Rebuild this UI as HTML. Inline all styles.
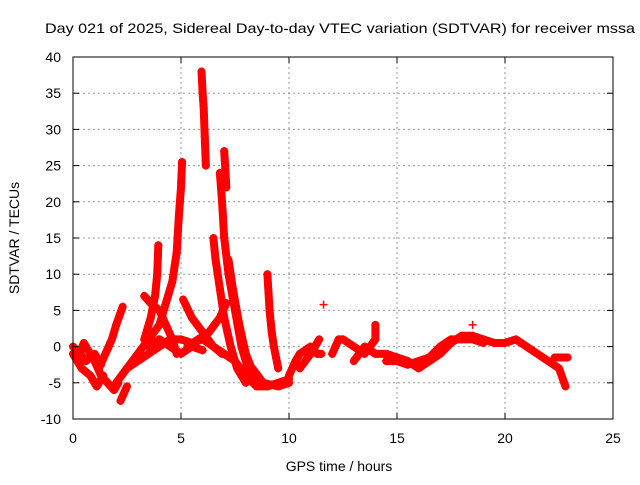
<!DOCTYPE html>
<html><head><meta charset="utf-8"><style>
body{margin:0;background:#fff}
svg{font-family:"Liberation Sans",sans-serif;font-size:14px}
</style></head><body>
<svg id="chart" width="640" height="480">
<text x="340" y="33" text-anchor="middle" textLength="590" lengthAdjust="spacingAndGlyphs">Day 021 of 2025, Sidereal Day-to-day VTEC variation (SDTVAR) for receiver mssa</text>
<g id="grid"></g><g id="marks"></g><g id="axes"></g>
<text x="339" y="471" text-anchor="middle">GPS time / hours</text>
<text transform="translate(19,238) rotate(-90)" text-anchor="middle">SDTVAR / TECUs</text>
</svg>
<script>
const xTicks=[0,5,10,15,20,25];
const yTicks=[-10,-5,0,5,10,15,20,25,30,35,40];
const tracks=[
[[0,0],[0.3,-1],[0.5,0.5],[0.8,-1],[1,-2],[1.3,-4],[1.6,-5],[1.9,-6],[2.1,-5]],
[[0,-1],[0.4,-3],[0.8,-4],[1.1,-5.5],[1.4,-4]],
[[0.2,-0.5],[0.6,-2],[1,-1],[1.3,-2.5]],
[[1.2,-3],[1.5,-1],[1.8,1],[2,3],[2.3,5.5]],
[[2.2,-7.5],[2.5,-5.5]],
[[2,-5],[2.5,-3],[3,-2],[3.5,-1],[4,0],[4.5,1],[5,1],[5.5,0.5],[6,1],[6.5,0],[7,-1],[7.5,-2],[8,-4],[8.5,-5.5],[9,-5.5],[9.5,-5],[10,-4.5]],
[[2.5,-3],[3,-1],[3.5,1],[4,3],[4.3,6],[4.6,9],[4.8,13],[4.9,18],[5,22],[5.05,25.5]],
[[3.3,1],[3.6,4],[3.8,7],[3.9,10],[3.95,14]],
[[3.3,7],[3.6,6],[4,5],[4.3,3],[4.6,1],[4.8,-1]],
[[3.5,0],[4,1],[4.5,0],[5,-1],[5.5,0],[6,-0.5]],
[[5.1,6.5],[5.5,4],[6,2],[6.5,0],[6.9,-1]],
[[5.95,38],[6,35],[6.05,33],[6.1,29],[6.15,25]],
[[6.5,15],[6.6,12],[6.8,8],[7,4],[7.3,0],[7.6,-3],[8,-5]],
[[6.8,24],[6.9,20],[7,15],[7.2,10],[7.5,5],[7.8,0],[8.1,-3],[8.5,-5]],
[[7,27],[7.1,22]],
[[7.2,12],[7.4,8],[7.7,3],[8,-1],[8.4,-4]],
[[5.3,0],[5.8,1],[6.3,2],[6.8,4],[7.1,6]],
[[9,10],[9.1,5],[9.2,2],[9.3,0],[9.5,-3]],
[[8.3,-3],[8.8,-5],[9.5,-5.5],[10,-5]],
[[10,-4],[10.3,-2],[10.5,-1],[11,0],[11.3,-1],[11.5,-1]],
[[11.6,5.8]],
[[10.5,-3],[11,-1],[11.4,1]],
[[12,-1],[12.3,1],[12.5,1],[13,0],[13.5,-1],[14,1],[14,3]],
[[13,-2],[13.5,0],[14,-1]],
[[14,-1],[14.5,-1],[15,-1.5],[15.5,-2],[16,-3],[16.5,-2],[17,-1],[17.5,0.5],[18,1.5],[18.5,1.5],[19,1],[19.5,0.5],[20,0.5],[20.5,1],[21,0],[21.5,-1],[22,-2],[22.5,-3],[22.8,-5.5]],
[[14.5,-2],[15,-2],[15.5,-2.5],[16,-2],[16.5,-1.5],[17,0],[17.5,1],[18,1],[18.5,1],[19,0.5]],
[[18.5,3]],
[[22.3,-1.5],[22.9,-1.5]]
];
const L=73,R=613,T=57,B=419;
const sx=v=>L+(v-0)/25*(R-L), sy=v=>B-(v+10)/50*(B-T);
const NS="http://www.w3.org/2000/svg";
const grid=document.getElementById('grid'),axes=document.getElementById('axes'),marks=document.getElementById('marks');
function mk(tag,attrs,parent){const e=document.createElementNS(NS,tag);for(const k in attrs)e.setAttribute(k,attrs[k]);parent.appendChild(e);return e;}
xTicks.forEach(t=>{const x=sx(t);
 if(t>0&&t<25){const g=mk('line',{x1:x,x2:x,y1:T,y2:B,stroke:'#999','stroke-dasharray':'2,3'},grid);
 
 }
 const tx=mk('text',{x:x,y:B+24,'text-anchor':'middle'},axes);tx.textContent=t;
 
 
 mk('line',{x1:x,x2:x,y1:B,y2:B-6,stroke:'#000'},axes);mk('line',{x1:x,x2:x,y1:T,y2:T+6,stroke:'#000'},axes);});
yTicks.forEach(t=>{const y=sy(t);
 if(t>-10&&t<40){const g=mk('line',{x1:L,x2:R,y1:y,y2:y,stroke:'#999','stroke-dasharray':'2,3'},grid);
 
 }
 const tx=mk('text',{x:L-12,y:y+5,'text-anchor':'end'},axes);tx.textContent=t;
 
 
 mk('line',{x1:L,x2:L+6,y1:y,y2:y,stroke:'#000'},axes);mk('line',{x1:R,x2:R-6,y1:y,y2:y,stroke:'#000'},axes);});
const fr=mk('rect',{x:L,y:T,width:R-L,height:B-T,fill:'none',stroke:'#000'},axes);


tracks.forEach(tr=>{
 if(tr.length>1){const p=mk('polyline',{points:tr.map(d=>sx(d[0])+','+sy(d[1])).join(' '),fill:'none',stroke:'#f00','stroke-width':8,'stroke-linejoin':'round','stroke-linecap':'round'},marks);
 
 }
 tr.forEach(d=>{const x=sx(d[0]),y=sy(d[1]);
  const m=mk('path',{d:`M${x-4},${y}H${x+4}M${x},${y-4}V${y+4}`,stroke:'#f00','stroke-width':1.5},marks);
  
  });
});
</script>
</body></html>
